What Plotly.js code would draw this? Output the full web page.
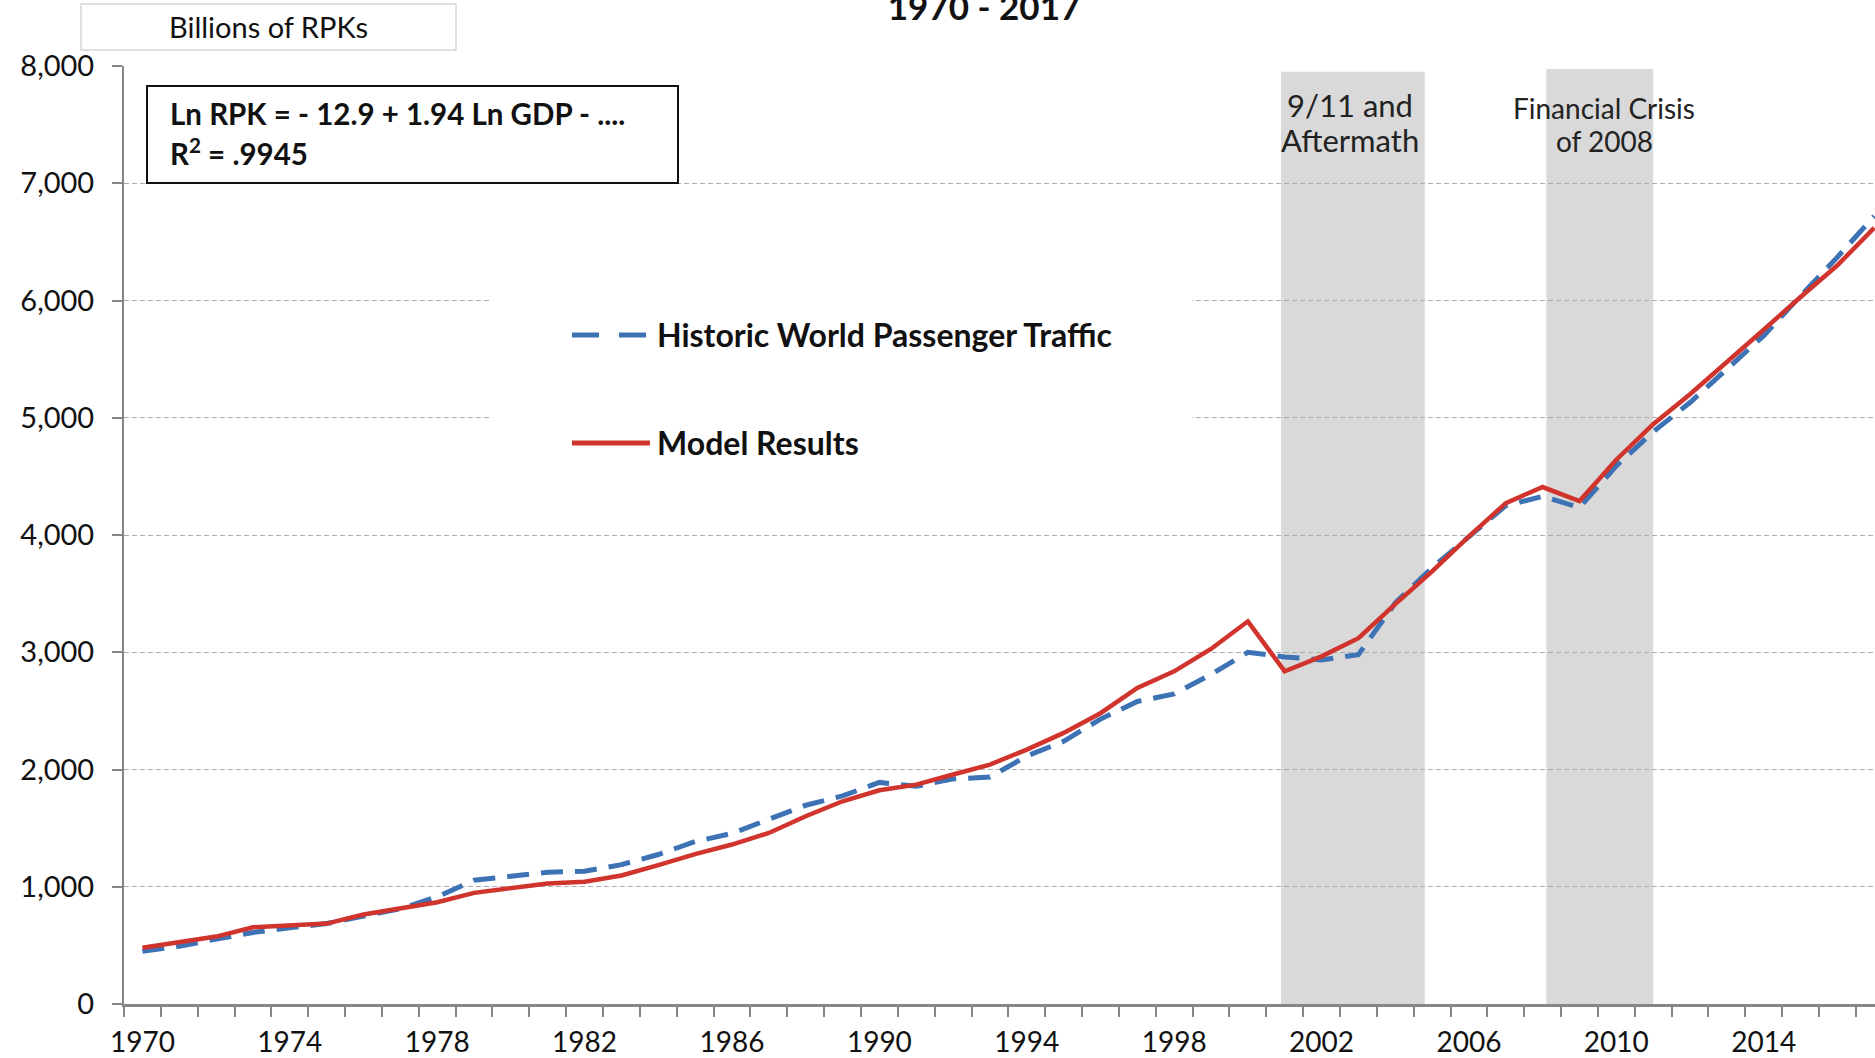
<!DOCTYPE html>
<html>
<head>
<meta charset="utf-8">
<script src="https://cdn.plot.ly/plotly-3.0.1.min.js"></script>
<style>
  html, body { margin: 0; padding: 0; background: #ffffff; overflow: hidden; }
  #chart { width: 1875px; height: 1058px; }
</style>
</head>
<body>
<div id="chart"></div>
<script>
// ---------------- DATA ----------------
const years = [1970,1971,1972,1973,1974,1975,1976,1977,1978,1979,
               1980,1981,1982,1983,1984,1985,1986,1987,1988,1989,
               1990,1991,1992,1993,1994,1995,1996,1997,1998,1999,
               2000,2001,2002,2003,2004,2005,2006,2007,2008,2009,
               2010,2011,2012,2013,2014,2015,2016,2017];

// Historic World Passenger Traffic (billions of RPKs)
const historicRPK = [450, 493, 553, 610, 650, 686, 750, 812, 915, 1055,
                     1090, 1124, 1132, 1189, 1275, 1385, 1455, 1580, 1695, 1775,
                     1890, 1857, 1920, 1935, 2115, 2240, 2430, 2580, 2645, 2810,
                     3000, 2960, 2935, 2980, 3420, 3720, 3990, 4250, 4330, 4235,
                     4590, 4880, 5130, 5410, 5700, 6040, 6370, 6720];

// Model Results (billions of RPKs)
const modelRPK = [479, 530, 575, 655, 672, 686, 763, 820, 868, 948,
                  991, 1027, 1042, 1096, 1185, 1278, 1360, 1459, 1601, 1729,
                  1823, 1871, 1957, 2042, 2170, 2312, 2480, 2695, 2837, 3028,
                  3264, 2837, 2965, 3120, 3410, 3690, 3988, 4272, 4409, 4290,
                  4642, 4945, 5200, 5470, 5750, 6030, 6300, 6620];

const seriesNames = ["Historic World Passenger Traffic", "Model Results"];

// x tick labels (every 4 years)
const labelYears = [1970,1974,1978,1982,1986,1990,1994,1998,2002,2006,2010,2014];
// y ticks
const yTicks = [0,1000,2000,3000,4000,5000,6000,7000,8000];

// shaded event periods
const bandStart = [2000.9, 2008.1];
const bandEnd   = [2004.8, 2011.0];
const bandTop   = [7950, 7975];
const bandLabelLines = [["9/11 and", "Aftermath"], ["Financial Crisis", "of 2008"]];

const chartTitle = "1970 - 2017";
const unitsLabel = "Billions of RPKs";
const equationLines = ["Ln RPK = - 12.9 + 1.94 Ln GDP - ....", "R<sup>2</sup> = .9945"];

// ---------------- LAYOUT HELPERS ----------------
const W = 1875, H = 1058, ML = 124, MR = 0, MT = 66, MB = 54;
const PW = W - ML - MR, PH = H - MT - MB;
const px = x => (x - ML) / PW;          // pixel x -> paper
const py = y => (H - MB - y) / PH;      // pixel y -> paper

const RED = "#d0342c";
const BLUE = "#3d72b4";
const AXIS = "#868686";
const FONT = "Lato, 'Open Sans', sans-serif";

const traces = [
  {
    x: years, y: historicRPK, name: seriesNames[0], type: "scatter", mode: "lines",
    line: { color: BLUE, width: 5, dash: "22px,12px" }, showlegend: false,
    hoverinfo: "x+y+name"
  },
  {
    x: years, y: modelRPK, name: seriesNames[1], type: "scatter", mode: "lines",
    line: { color: RED, width: 4.5 }, showlegend: false,
    hoverinfo: "x+y+name"
  }
];

const shapes = [];
// shaded periods (below gridlines)
for (let i = 0; i < bandStart.length; i++) {
  shapes.push({
    type: "rect", xref: "x", yref: "y",
    x0: bandStart[i], x1: bandEnd[i], y0: 0, y1: bandTop[i],
    fillcolor: "#d9d9d9", line: { width: 0 }, layer: "below"
  });
}
// white legend background that masks gridlines
shapes.push({
  type: "rect", xref: "paper", yref: "paper",
  x0: px(490), x1: px(1192), y0: py(500), y1: py(232),
  fillcolor: "#ffffff", line: { width: 0 }, layer: "above"
});
// legend line samples
shapes.push({
  type: "line", xref: "paper", yref: "paper",
  x0: px(572), x1: px(648), y0: py(335), y1: py(335),
  line: { color: BLUE, width: 5, dash: "27px,20px" }, layer: "above"
});
shapes.push({
  type: "line", xref: "paper", yref: "paper",
  x0: px(572), x1: px(650), y0: py(443), y1: py(443),
  line: { color: RED, width: 5 }, layer: "above"
});
// equation box
shapes.push({
  type: "rect", xref: "paper", yref: "paper",
  x0: px(147), x1: px(678), y0: py(183), y1: py(86),
  fillcolor: "#ffffff", line: { color: "#111111", width: 2 }, layer: "above"
});
// units box
shapes.push({
  type: "rect", xref: "paper", yref: "paper",
  x0: px(81), x1: px(456), y0: py(50), y1: py(4),
  fillcolor: "#ffffff", line: { color: "#d6d6d6", width: 1.5 }, layer: "above"
});

function textAnn(text, x, y, size, anchor, bold, color) {
  return {
    text: bold ? "<b>" + text + "</b>" : text,
    xref: "paper", yref: "paper", x: px(x), y: py(y),
    xanchor: anchor, yanchor: "middle", align: anchor === "left" ? "left" : "center",
    showarrow: false, font: { size: size, color: color || "#111111", family: FONT }
  };
}

const annotations = [
  textAnn(unitsLabel, 268.5, 27, 29, "center", false),
  textAnn(equationLines[0], 168, 114, 29.5, "left", true),
  textAnn(equationLines[1], 168, 152, 29.5, "left", true),
  textAnn(seriesNames[0], 655, 334, 32, "left", true),
  textAnn(seriesNames[1], 655, 442, 32, "left", true),
  textAnn(bandLabelLines[0][0], 1350, 105, 31, "center", false, "#222222"),
  textAnn(bandLabelLines[0][1], 1350, 140, 31, "center", false, "#222222"),
  textAnn(bandLabelLines[1][0], 1604, 108, 28, "center", false, "#222222"),
  textAnn(bandLabelLines[1][1], 1604, 141, 28, "center", false, "#222222")
];

const layout = {
  width: W, height: H,
  margin: { l: ML, r: MR, t: MT, b: MB, pad: 0 },
  paper_bgcolor: "#ffffff", plot_bgcolor: "#ffffff",
  font: { family: FONT, color: "#111111" },
  showlegend: false,
  title: {
    text: "<b>" + chartTitle + "</b>",
    x: 984 / W, xanchor: "center", xref: "container",
    y: 1 - 8 / H, yanchor: "middle", yref: "container",
    font: { size: 35, color: "#111111", family: FONT }
  },
  xaxis: {
    range: [1969.5, 2017.02],
    tickmode: "array", tickvals: labelYears, ticktext: labelYears.map(String),
    ticks: "", showgrid: false, zeroline: false,
    showline: true, linecolor: AXIS, linewidth: 2.5,
    tickfont: { size: 28, color: "#111111", family: FONT },
    ticklabelstandoff: 12,
    minor: { tickmode: "linear", tick0: 1969.5, dtick: 1, ticks: "outside",
             ticklen: 10, tickwidth: 2, tickcolor: AXIS, showgrid: false },
    fixedrange: true
  },
  yaxis: {
    range: [0, 8000],
    tickmode: "array", tickvals: yTicks, tickformat: ",",
    ticks: "outside", ticklen: 10, tickwidth: 2, tickcolor: AXIS,
    showline: true, linecolor: AXIS, linewidth: 2,
    showgrid: true, gridcolor: "#ababab", gridwidth: 1, griddash: "5px,3px",
    zeroline: false,
    tickfont: { size: 29, color: "#111111", family: FONT },
    ticklabelstandoff: 12,
    fixedrange: true
  },
  shapes: shapes,
  annotations: annotations
};

Plotly.newPlot("chart", traces, layout, { displayModeBar: false, staticPlot: true });
</script>
</body>
</html>
